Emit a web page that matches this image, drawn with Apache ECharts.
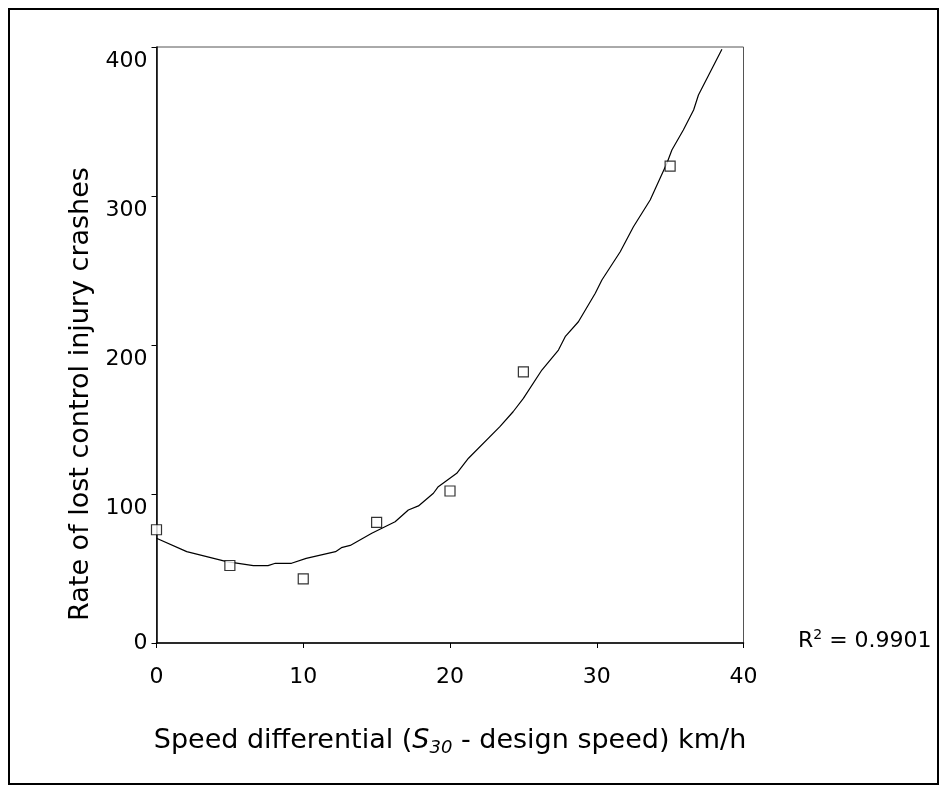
<!DOCTYPE html>
<html>
<head>
<meta charset="utf-8">
<script src="https://cdn.jsdelivr.net/npm/echarts@6/dist/echarts.min.js"></script>
<style>
  html, body { margin: 0; padding: 0; background: #fff; }
  #chart { width: 946px; height: 792px; }
</style>
</head>
<body>
<div id="chart"></div>
<script>
// Observed data points (speed differential km/h, crash rate)
const pointX = [0, 5, 10, 15, 20, 25, 35];
const pointY = [76, 52, 43, 81, 102, 182, 320];

// Trend line (x, y)
const trendX = [0, 2.06, 4.78, 6.6, 7.6, 8.1, 9.2, 10.2, 12.2, 12.6, 13.2, 14.67, 16.26, 17.16, 17.85, 18.87, 19.2, 20.46, 21.26, 23.4, 24.3, 25.0, 26.26, 27.39, 27.85, 28.75, 29.9, 30.35, 31.6, 32.5, 33.64, 34.78, 35.12, 35.9, 36.6, 36.93, 38.53];
const trendY = [70.3, 61.3, 54.6, 51.9, 51.9, 53.5, 53.5, 56.8, 61.3, 64, 65.5, 73.6, 81.4, 89.3, 92, 100.5, 104.9, 113.9, 124, 145.2, 155.2, 164.2, 183.2, 196.6, 205.6, 215.6, 234.7, 243.6, 262.6, 279.4, 297.3, 322, 330.9, 344.3, 357.7, 367.8, 398.5];

const xTicks = [0, 10, 20, 30, 40];
const yTicks = [0, 100, 200, 300, 400];
const rSquared = '0.9901';

const xTitle = 'Speed differential ({i|S}{sub|30} - design speed) km/h';
const yTitle = 'Rate of lost control injury crashes';

const FONT = 'DejaVu Sans';

const chart = echarts.init(document.getElementById('chart'), null, { renderer: 'canvas' });

const option = {
  backgroundColor: '#fff',
  animation: false,
  grid: {
    left: 156.5, right: 202.5, top: 47, bottom: 149,
    show: true, borderColor: '#555', borderWidth: 1, backgroundColor: 'transparent'
  },
  xAxis: {
    type: 'value',
    min: xTicks[0], max: xTicks[xTicks.length - 1], interval: 10,
    axisLine: { show: true, onZero: false, lineStyle: { color: '#000', width: 1.5 } },
    axisTick: { show: true, inside: false, length: 5, lineStyle: { color: '#000', width: 1 } },
    splitLine: { show: false },
    axisLabel: { color: '#000', fontFamily: FONT, fontSize: 22, margin: 23 },
    name: xTitle,
    nameLocation: 'middle',
    nameGap: 82,
    nameTextStyle: {
      color: '#000', fontFamily: FONT, fontSize: 27,
      rich: {
        i: { fontFamily: FONT, fontSize: 27, fontStyle: 'italic', color: '#000' },
        sub: { fontFamily: FONT, fontSize: 18, fontStyle: 'italic', color: '#000', padding: [14, 0, 0, 0] }
      }
    }
  },
  yAxis: {
    type: 'value',
    min: yTicks[0], max: yTicks[yTicks.length - 1], interval: 100,
    axisLine: { show: true, onZero: false, lineStyle: { color: '#000', width: 1.5 } },
    axisTick: { show: true, inside: false, length: 5, lineStyle: { color: '#000', width: 1 } },
    splitLine: { show: false },
    axisLabel: {
      color: '#000', fontFamily: FONT, fontSize: 22, margin: 9,
      formatter: function (v) { return v === 0 ? '{z|' + v + '}' : '{o|' + v + '}'; },
      rich: {
        z: { fontFamily: FONT, fontSize: 22, color: '#000' },
        o: { fontFamily: FONT, fontSize: 22, color: '#000', padding: [28, 0, 0, 0] }
      }
    },
    name: yTitle,
    nameLocation: 'middle',
    nameGap: 60,
    nameTextStyle: { color: '#000', fontFamily: FONT, fontSize: 27, padding: [0, 98, 0, 0] }
  },
  series: [
    {
      name: 'Trend',
      type: 'line',
      data: trendX.map((x, i) => [x, trendY[i]]),
      showSymbol: false,
      smooth: false,
      lineStyle: { color: '#000', width: 1.2 },
      z: 2
    },
    {
      name: 'Observed',
      type: 'scatter',
      data: pointX.map((x, i) => [x, pointY[i]]),
      symbol: 'rect',
      symbolSize: 10,
      itemStyle: { color: '#fff', borderColor: '#000', borderWidth: 1.2 },
      z: 3
    }
  ],
  graphic: [
    {
      type: 'rect', left: 8, top: 8, z: -10, silent: true,
      shape: { width: 929, height: 775 },
      style: { fill: 'transparent', stroke: '#000', lineWidth: 2 }
    },
    {
      type: 'text', left: 798, top: 628, silent: true,
      style: {
        text: 'R{sup|2} = ' + rSquared,
        fontFamily: FONT, fontSize: 22, fill: '#000',
        rich: {
          sup: { fontFamily: FONT, fontSize: 14, fill: '#000', padding: [0, 0, 13, 0] }
        }
      }
    }
  ]
};

chart.setOption(option);
</script>
</body>
</html>
